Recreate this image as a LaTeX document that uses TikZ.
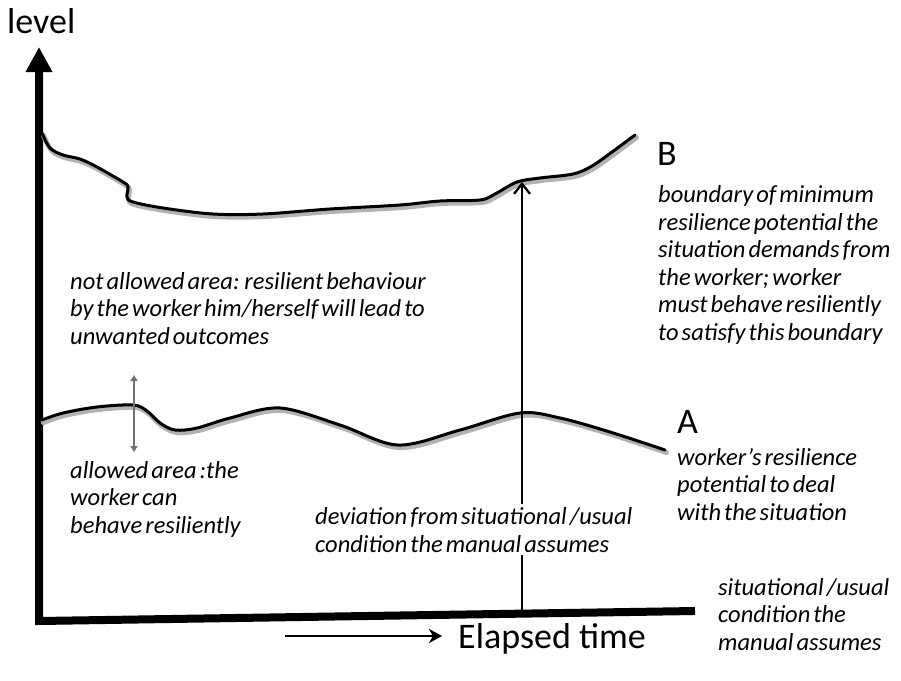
\documentclass[tikz,border=0pt]{standalone}
\usepackage{fontspec}
\setmainfont{Carlito}
\newfontfamily\notefont{Carlito}[WordSpace=0.55]
\usetikzlibrary{arrows.meta}

\tikzset{
  label text/.style={font=\fontsize{36}{40}\selectfont, inner sep=0pt},
  note/.style={font=\notefont\itshape\fontsize{24.5}{27.5}\selectfont, align=left, inner sep=0pt},
  curve/.style={line width=3pt, line cap=round, line join=round},
  curve shade/.style={line width=5pt, draw=black!30, line cap=round, line join=round},
  axis line/.style={line width=8pt, line join=miter},
}

\begin{document}
\begin{tikzpicture}[x=1pt, y=-1pt]
\useasboundingbox (0,0) rectangle (901,680);

% axes
\coordinate (origin) at (39,621);
\coordinate (ytop) at (39,47);
\coordinate (xend) at (695,611);
\draw[axis line, -{Triangle[width=25pt,length=25pt]}] (xend) -- (origin) -- (ytop);
\node[label text, anchor=base west] (ylab) at (7,33) {level};

% boundary B with its soft shadow
\def\curveB{(42,133) (50,148) (63,155) (80,159) (97,167) (123,182) (128,187) (127,197) (133,202) (163,208) (213,214) (263,214) (330,209) (400,205) (440,201) (480,200) (495,194) (517,182) (540,178) (573,174) (592,166) (612,152) (635,135)}
\draw[curve shade, shift={(1.5pt,-2.5pt)}] plot[smooth, tension=0.55] coordinates \curveB;
\draw[curve] plot[smooth, tension=0.55] coordinates \curveB;

% resilience potential A with its soft shadow
\def\curveA{(42,420) (63,413) (97,407) (133,405) (147,411) (160,423) (175,430) (197,428) (230,418) (280,408) (340,425) (398,445) (460,430) (520,413) (560,418) (610,432) (665,450)}
\draw[curve shade, shift={(1.5pt,-2.5pt)}] plot[smooth, tension=0.55] coordinates \curveA;
\draw[curve] plot[smooth, tension=0.55] coordinates \curveA;

% deviation arrow from the usual condition up to boundary B
\coordinate (devfoot) at (522,611);
\coordinate (devtip) at (522,182);
\draw[line width=2.3pt, -{Straight Barb[length=10pt,width=16pt,line width=2.3pt]}] (devfoot) -- (devtip);

% allowed-range marker
\coordinate (rtop) at (134,375);
\coordinate (rbot) at (134,452);
\draw[black!55, line width=1.4pt, {Triangle[width=7pt,length=6pt]}-{Triangle[width=7pt,length=6pt]}] (rtop) -- (rbot);

% labels (multi-line notes are anchored on the baseline of their last line)
\node[label text, anchor=base west] (labB) at (657,165) {B};
\node[label text, anchor=base west] (labA) at (677,433) {A};

\node[note, anchor=base west] (noteB) at (658,340) {boundary of minimum\\resilience potential the\\situation demands from\\the worker; worker\\must behave resiliently\\to satisfy this boundary};
\node[note, anchor=base west] (noteA) at (677,520) {worker’s resilience\\potential to deal\\with the situation};
\node[note, anchor=base west] (notallowed) at (70,344) {not allowed area: resilient behaviour\\by the worker him/herself will lead to\\unwanted outcomes};
\node[note, anchor=base west] (allowed) at (70,533) {allowed area :the\\worker can\\behave resiliently};
\node[note, anchor=base west, fill=white, inner sep=3pt] (deviation) at (312,552) {deviation from situational /usual\\condition the manual assumes};
\node[note, anchor=base west] (usual) at (718,650) {situational /usual\\condition the\\manual assumes};

% time axis caption
\node[label text, anchor=base west] (tlab) at (458,648) {Elapsed time};
\coordinate (tstart) at (285,636);
\coordinate (tend) at (442,636);
\draw[line width=2.5pt, -{Stealth[length=13pt,width=14pt,inset=4pt]}] (tstart) -- (tend);
\end{tikzpicture}
\end{document}
